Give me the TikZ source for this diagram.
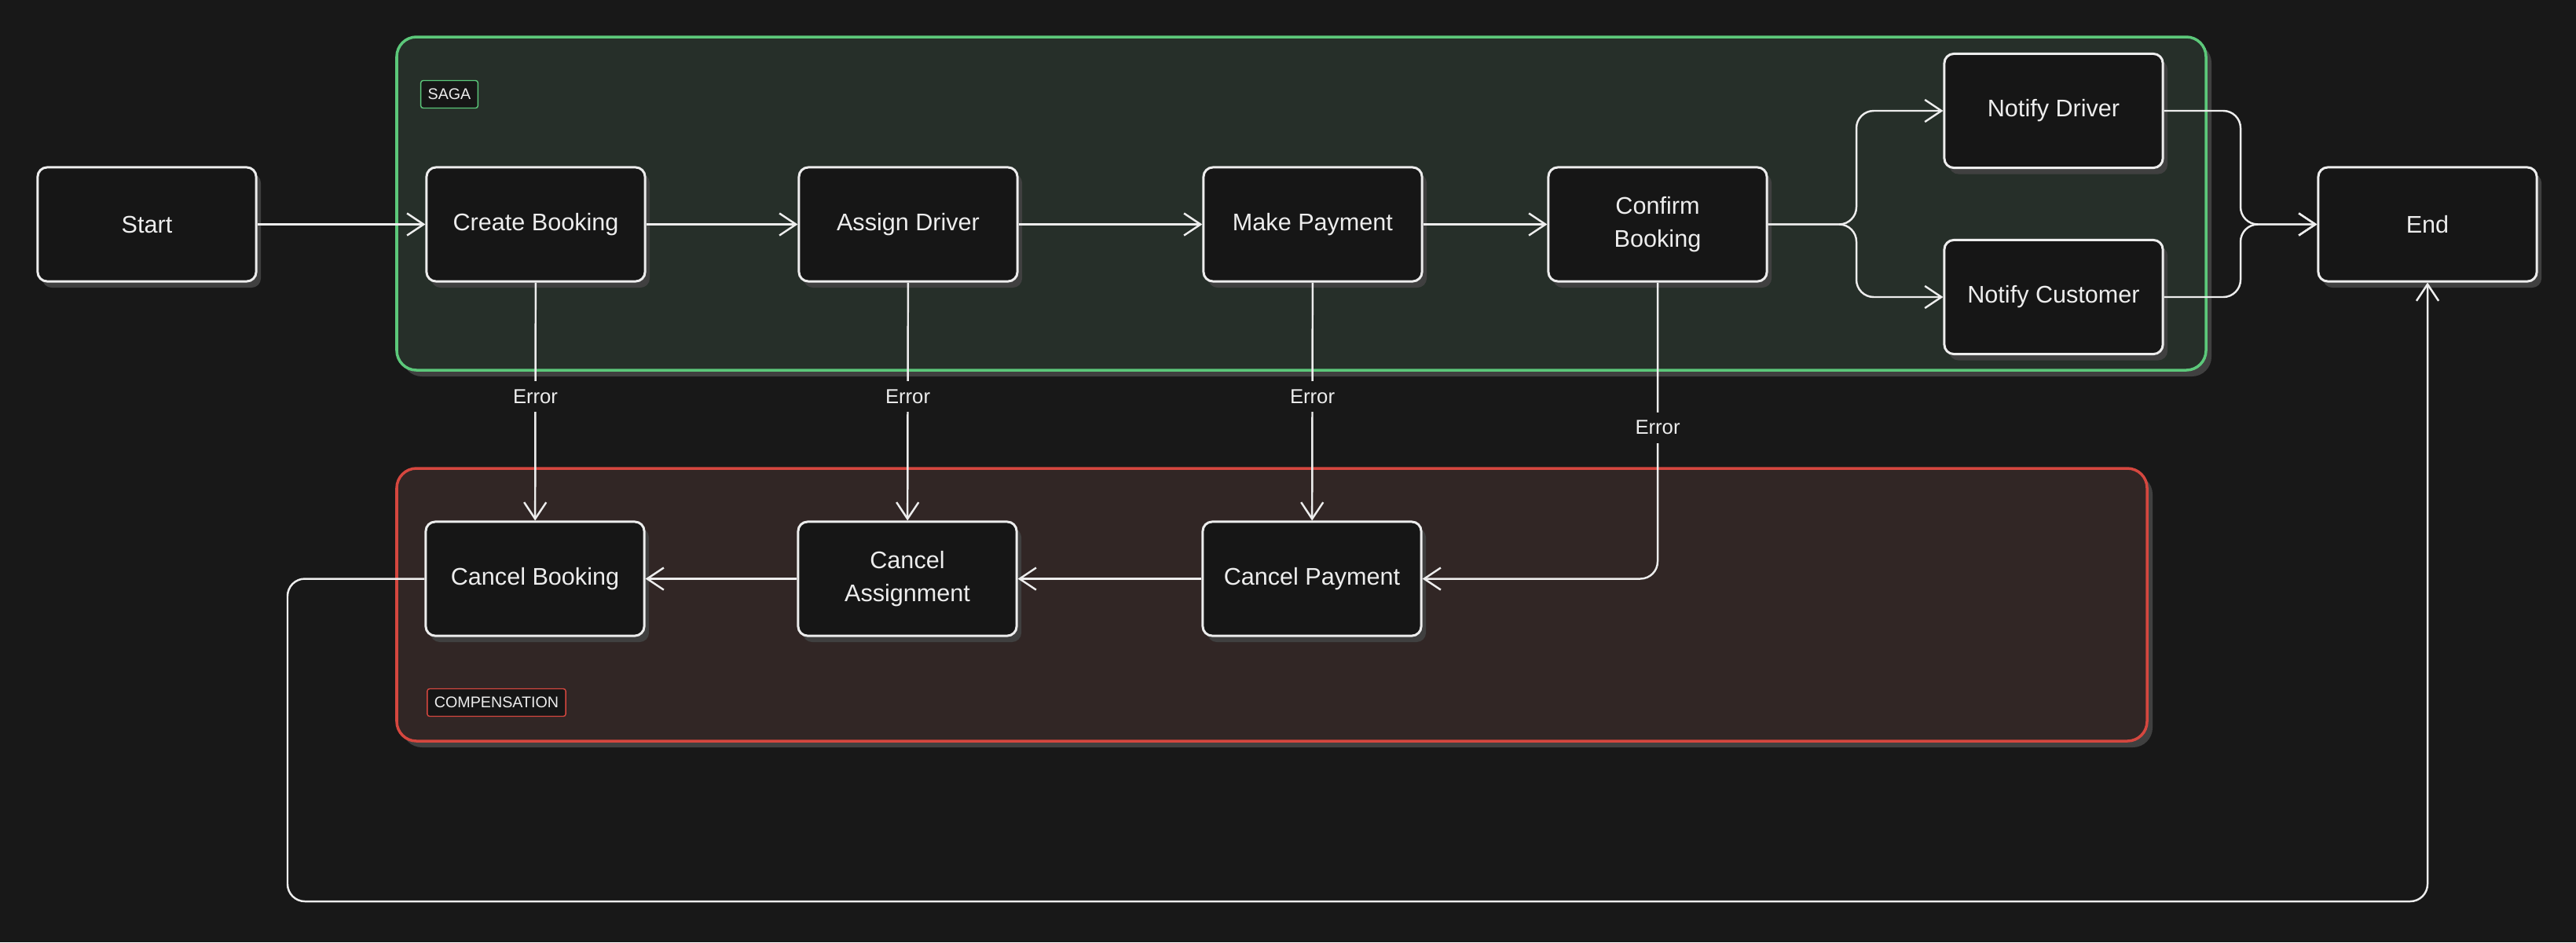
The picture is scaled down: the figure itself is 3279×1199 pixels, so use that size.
\documentclass[tikz,border=0pt]{standalone}
\usepackage{fontspec}
\setmainfont{Liberation Sans}
\usetikzlibrary{arrows.meta,shadows}
\definecolor{bgcolor}{HTML}{181818}
\definecolor{nodefill}{HTML}{161616}
\definecolor{sagafill}{HTML}{262F29}
\definecolor{sagaline}{HTML}{5CC87A}
\definecolor{compfill}{HTML}{312625}
\definecolor{compline}{HTML}{D5473F}
\definecolor{shadowgray}{HTML}{404040}
\definecolor{textwhite}{HTML}{EDEDED}
\begin{document}
\begin{tikzpicture}[x=0.01cm, y=-0.01cm,
	box/.style={shape=rectangle, rounded corners=0.12cm, draw=textwhite, fill=nodefill, line width=0.85pt, minimum width=2.78cm, minimum height=1.45cm, inner sep=0pt, text=textwhite, align=center, font=\fontsize{8.7}{12}\selectfont, drop shadow={shadow xshift=0.06cm, shadow yshift=-0.08cm, fill=shadowgray, opacity=1}},
	group/.style={rounded corners=0.25cm, line width=1pt, drop shadow={shadow xshift=0.07cm, shadow yshift=-0.08cm, fill=shadowgray, opacity=1}},
	tag/.style={shape=rectangle, rounded corners=0.03cm, fill=nodefill, line width=0.4pt, minimum height=0.35cm, inner xsep=0.09cm, inner ysep=0pt, text=textwhite, font=\fontsize{5.6}{6}\selectfont},
	flow/.style={draw=textwhite, line width=0.7pt, -{Straight Barb[length=6pt, width=8pt]}},
	elabel/.style={fill=bgcolor, text=textwhite, inner sep=3pt, font=\fontsize{7.3}{8}\selectfont}]
	\fill[bgcolor] (0,0) rectangle (3279,1199);
	\draw[group, draw=sagaline, fill=sagafill] (505,47) rectangle (2808,471);
	\draw[group, draw=compline, fill=compfill] (505,596) rectangle (2733,943);
	\draw (572,120) node[tag, draw=sagaline](sagatag){SAGA};
	\draw (632,894) node[tag, draw=compline](comptag){COMPENSATION};
	
	\draw (187,285.5) node[box](start){Start};
	\draw (682,285.5) node[box](create){Create Booking};
	\draw (1156,285.5) node[box](assign){Assign Driver};
	\draw (1671,285.5) node[box](pay){Make Payment};
	\draw (2110,285.5) node[box](confirm){Confirm\\Booking};
	\draw (2614,141) node[box](ndriver){Notify Driver};
	\draw (2614,378) node[box](ncust){Notify Customer};
	\draw (3090,285.5) node[box](end){End};
	\draw (681,736.5) node[box](cbook){Cancel Booking};
	\draw (1155,736.5) node[box](cassign){Cancel\\Assignment};
	\draw (1670,736.5) node[box](cpay){Cancel Payment};
	
	\coordinate (fork) at (2363,285.5);
	\coordinate (join) at (2852,285.5);
	\coordinate (loopa) at (366,1147);
	\coordinate (loopb) at (3090,1147);
	
	\draw [flow](start) -- (create);
	\draw [flow](create) -- (assign);
	\draw [flow](assign) -- (pay);
	\draw [flow](pay) -- (confirm);
	\draw [flow, rounded corners=0.22cm](confirm) -- (fork) |- (ndriver);
	\draw [flow, rounded corners=0.22cm](confirm) -- (fork) |- (ncust);
	\draw [flow, rounded corners=0.22cm](ndriver) -| (join) -- (end);
	\draw [flow, rounded corners=0.22cm](ncust) -| (join) -- (end);
	
	\draw [flow](create) -- node[elabel, pos=0.48]{Error} (cbook);
	\draw [flow](assign) -- node[elabel, pos=0.48]{Error} (cassign);
	\draw [flow](pay) -- node[elabel, pos=0.48]{Error} (cpay);
	\draw [flow, rounded corners=0.22cm](confirm) |- node[elabel, pos=0.245]{Error} (cpay);
	
	\draw [flow](cpay) -- (cassign);
	\draw [flow](cassign) -- (cbook);
	\draw [flow, rounded corners=0.22cm](cbook) -| (loopa) -- (loopb) -- (end);
\end{tikzpicture}
\end{document}
